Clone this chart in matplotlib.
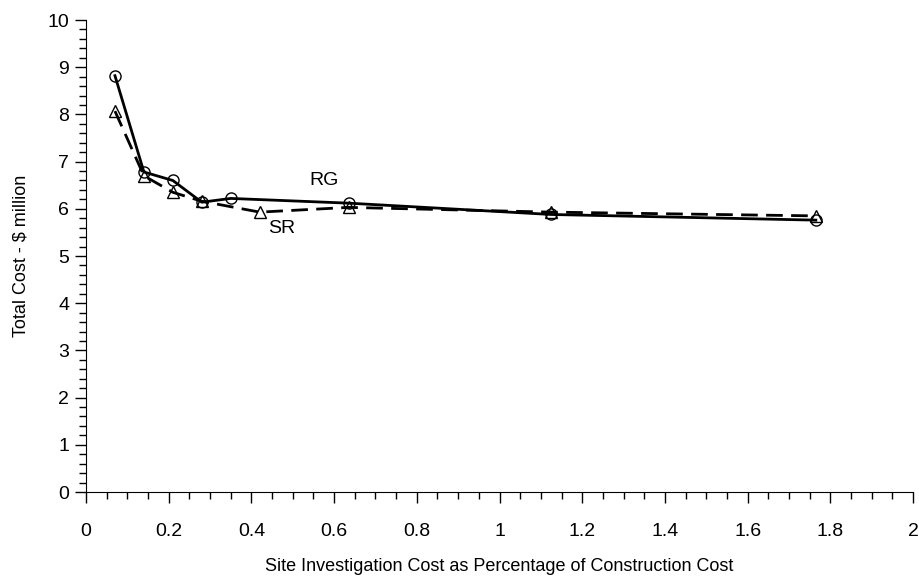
import numpy as np
import matplotlib
matplotlib.use('Agg')
from matplotlib import pyplot as plt
from matplotlib.ticker import MultipleLocator

plt.rcParams['font.family'] = ['Liberation Sans Narrow', 'Liberation Sans', 'DejaVu Sans']

# RG series (circles)
rg_x = [0.07, 0.14, 0.21, 0.28, 0.35, 0.635, 1.125, 1.765]
rg_y = [8.82, 6.78, 6.60, 6.14, 6.22, 6.12, 5.88, 5.76]
# SR series (triangles)
sr_x = [0.07, 0.14, 0.21, 0.28, 0.42, 0.635, 1.125, 1.765]
sr_y = [8.07, 6.70, 6.35, 6.16, 5.93, 6.03, 5.93, 5.85]

x_ticks = [0, 0.2, 0.4, 0.6, 0.8, 1, 1.2, 1.4, 1.6, 1.8, 2]
x_labels = ['0', '0.2', '0.4', '0.6', '0.8', '1', '1.2', '1.4', '1.6', '1.8', '2']
y_ticks = list(range(11))

fig = plt.figure(figsize=(9.2, 5.77), dpi=100)
ax = fig.add_axes([0.0935, 0.1473, 0.8989, 0.818])

ax.plot(sr_x, sr_y, color='black', lw=2, ls=(0, (6, 3)), marker='^', ms=8,
        mfc='none', mec='black', mew=1, zorder=2)
ax.plot(rg_x, rg_y, color='black', lw=2, marker='o', ms=8,
        mfc='none', mec='black', mew=1, zorder=3)

ax.text(0.576, 6.59, 'RG', fontsize=14, ha='center', va='center')
ax.text(0.474, 5.59, 'SR', fontsize=14, ha='center', va='center')

ax.set_xlim(0, 2)
ax.set_ylim(0, 10)
ax.set_xticks(x_ticks)
ax.set_xticklabels(x_labels)
ax.set_yticks(y_ticks)
ax.set_yticklabels([str(i) for i in y_ticks])
ax.xaxis.set_minor_locator(MultipleLocator(0.05))
ax.yaxis.set_minor_locator(MultipleLocator(0.2))
ax.tick_params(which='major', direction='out', length=8, width=1, labelsize=14, pad=4)
ax.tick_params(which='minor', direction='out', length=5, width=1)
ax.tick_params(axis='x', which='major', pad=14)

for s in ['top', 'right']:
    ax.spines[s].set_visible(False)

ax.set_xlabel('Site Investigation Cost as Percentage of Construction Cost', fontsize=13, labelpad=13)
ax.set_ylabel('Total Cost - $ million', fontsize=13, labelpad=13)

fig.savefig('out.png', dpi=100)
